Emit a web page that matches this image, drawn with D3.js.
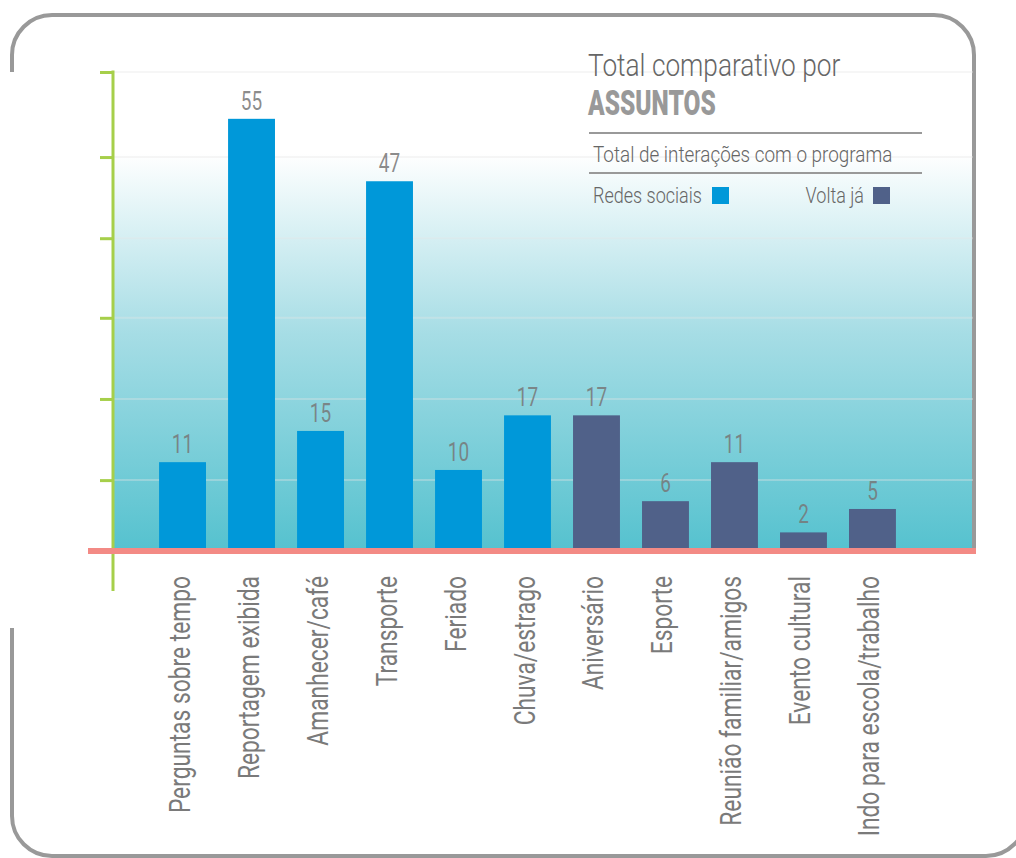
<!DOCTYPE html>
<html>
<head>
<meta charset="utf-8">
<script src="https://cdn.jsdelivr.net/npm/d3@7"></script>
<style>
  body { margin: 0; background: #fff; }
  svg { display: block; font-family: Roboto, "Noto Sans", sans-serif; }
</style>
</head>
<body>
<div id="chart"></div>
<script>
// data
var categories = ["Perguntas sobre tempo", "Reportagem exibida", "Amanhecer/café", "Transporte",
  "Feriado", "Chuva/estrago", "Aniversário", "Esporte", "Reunião familiar/amigos",
  "Evento cultural", "Indo para escola/trabalho"];
var values = [11, 55, 15, 47, 10, 17, 17, 6, 11, 2, 5];
var sources = ["Redes sociais", "Redes sociais", "Redes sociais", "Redes sociais", "Redes sociais",
  "Redes sociais", "Volta já", "Volta já", "Volta já", "Volta já", "Volta já"];
var seriesNames = ["Redes sociais", "Volta já"];
var gridTicks = [8.7, 19.1, 29.5, 39.7, 50.1, 61];

var width = 1016, height = 858;
var plotLeft = 113, plotRight = 973, plotTop = 72, plotBottom = 548;
var squeeze = 0.76; // condensed look

var svg = d3.select("#chart").append("svg")
  .attr("width", width).attr("height", height);

var x = d3.scaleBand().domain(categories).range([137, 918]).padding(0.32);
var y = d3.scaleLinear().domain([0, 61]).range([plotBottom, plotTop]);
var color = d3.scaleOrdinal().domain(seriesNames).range(["#0098d9", "#506189"]);

// background gradient
var defs = svg.append("defs");
var grad = defs.append("linearGradient").attr("id", "bg")
  .attr("x1", 0).attr("y1", 0).attr("x2", 0).attr("y2", 1);
grad.append("stop").attr("offset", "0%").attr("stop-color", "#ffffff");
grad.append("stop").attr("offset", "17%").attr("stop-color", "#ffffff");
grad.append("stop").attr("offset", "55%").attr("stop-color", "#a6dde5");
grad.append("stop").attr("offset", "100%").attr("stop-color", "#56c2cf");

svg.append("rect")
  .attr("x", plotLeft).attr("y", plotTop)
  .attr("width", plotRight - plotLeft).attr("height", plotBottom - plotTop)
  .attr("fill", "url(#bg)");

// frame (top part and bottom part)
var r = 40;
svg.append("path")
  .attr("d", "M12," + plotTop + " L12," + (15 + r) + " A" + r + "," + r + " 0 0 1 " + (12 + r) + ",15"
    + " L" + (974 - r) + ",15 A" + r + "," + r + " 0 0 1 974," + (15 + r) + " L974," + plotBottom)
  .attr("fill", "none").attr("stroke", "#999").attr("stroke-width", 4);
svg.append("path")
  .attr("d", "M12,628 L12," + (856 - r) + " A" + r + "," + r + " 0 0 0 " + (12 + r) + ",856"
    + " L" + (1026 - r) + ",856 A" + r + "," + r + " 0 0 0 1026," + (856 - r))
  .attr("fill", "none").attr("stroke", "#999").attr("stroke-width", 4);

// gridlines
svg.append("g").selectAll("line").data(gridTicks).enter().append("line")
  .attr("x1", plotLeft).attr("x2", plotRight)
  .attr("y1", function(d){ return y(d); }).attr("y2", function(d){ return y(d); })
  .attr("stroke", "#e6e6e6").attr("stroke-opacity", 0.35).attr("stroke-width", 2);

// y axis (green, no labels)
var yAxis = d3.axisLeft(y).tickValues(gridTicks).tickSize(13).tickFormat("");
var ga = svg.append("g").attr("transform", "translate(" + plotLeft + ",0)").call(yAxis);
ga.select(".domain").remove();
ga.selectAll(".tick line").attr("stroke", "#a6cf4a").attr("stroke-width", 3);
svg.append("line")
  .attr("x1", plotLeft).attr("x2", plotLeft).attr("y1", plotTop - 1.5).attr("y2", 591)
  .attr("stroke", "#a6cf4a").attr("stroke-width", 3);

// bars
svg.append("g").selectAll("rect").data(categories).enter().append("rect")
  .attr("x", function(d){ return x(d); })
  .attr("y", function(d, i){ return y(values[i]); })
  .attr("width", x.bandwidth())
  .attr("height", function(d, i){ return y(0) - y(values[i]); })
  .attr("fill", function(d, i){ return color(sources[i]); });

// value labels
svg.append("g").selectAll("text").data(categories).enter().append("text")
  .attr("transform", function(d, i){
    return "translate(" + (x(d) + x.bandwidth() / 2) + "," + (y(values[i]) - 9) + ") scale(" + squeeze + ",1)";
  })
  .attr("text-anchor", "middle")
  .attr("font-size", 25).attr("font-weight", 400)
  .attr("fill", "#777").attr("fill-opacity", 0.85)
  .text(function(d, i){ return values[i]; });

// baseline
svg.append("line")
  .attr("x1", 88).attr("x2", 976).attr("y1", 551).attr("y2", 551)
  .attr("stroke", "#f38a85").attr("stroke-width", 6);

// category labels
svg.append("g").selectAll("text").data(categories).enter().append("text")
  .attr("transform", function(d){
    return "translate(" + (x(d) + x.bandwidth() / 2 + 7) + ",576) rotate(-90) scale(" + squeeze + ",1)";
  })
  .attr("text-anchor", "end")
  .attr("font-size", 30).attr("font-weight", 400)
  .attr("fill", "#7a7a7a")
  .text(function(d){ return d; });

// title block
var tb = svg.append("g");
tb.append("text").attr("transform", "translate(588,76) scale(0.82,1)")
  .attr("font-size", 32).attr("font-weight", 300).attr("fill", "#666")
  .text("Total comparativo por");
tb.append("text").attr("transform", "translate(588,115) scale(0.7,1)")
  .attr("font-size", 35).attr("font-weight", 900).attr("fill", "#999")
  .text("ASSUNTOS");
tb.append("line").attr("x1", 589).attr("x2", 922).attr("y1", 133).attr("y2", 133)
  .attr("stroke", "#999").attr("stroke-width", 2);
tb.append("text").attr("transform", "translate(593,162) scale(0.84,1)")
  .attr("font-size", 22.5).attr("font-weight", 300).attr("fill", "#666")
  .text("Total de interações com o programa");
tb.append("line").attr("x1", 589).attr("x2", 922).attr("y1", 173).attr("y2", 173)
  .attr("stroke", "#999").attr("stroke-width", 2);

// legend
var legendX = [{ text: 593, box: 712, anchor: "start" }, { text: 864, box: 873, anchor: "end" }];
var lg = tb.selectAll("g.leg").data(seriesNames).enter().append("g").attr("class", "leg");
lg.append("text")
  .attr("transform", function(d, i){ return "translate(" + legendX[i].text + ",203) scale(0.8,1)"; })
  .attr("text-anchor", function(d, i){ return legendX[i].anchor; })
  .attr("font-size", 22.5).attr("font-weight", 300).attr("fill", "#666")
  .text(function(d){ return d; });
lg.append("rect")
  .attr("x", function(d, i){ return legendX[i].box; }).attr("y", 187)
  .attr("width", 17).attr("height", 17)
  .attr("fill", function(d){ return color(d); });
</script>
</body>
</html>
